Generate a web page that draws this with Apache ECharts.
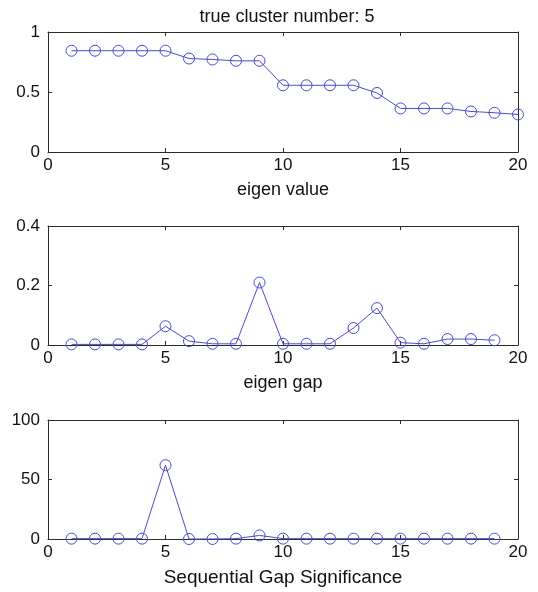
<!DOCTYPE html>
<html>
<head>
<meta charset="utf-8">
<script src="https://cdn.jsdelivr.net/npm/echarts@6/dist/echarts.min.js"></script>
<style>
html,body{margin:0;padding:0;background:#fff;}
#c{width:538px;height:592px;}
</style>
</head>
<body>
<div id="c"></div>
<script>
// Data
const titleText = 'true cluster number: 5';
const xNames = ['eigen value', 'eigen gap', 'Sequential Gap Significance'];
const eigenX = [1,2,3,4,5,6,7,8,9,10,11,12,13,14,15,16,17,18,19,20];
const eigenValue = [0.844,0.844,0.844,0.844,0.844,0.779,0.771,0.760,0.760,0.556,0.556,0.556,0.556,0.492,0.363,0.363,0.363,0.338,0.327,0.313];
const gapX = [1,2,3,4,5,6,7,8,9,10,11,12,13,14,15,16,17,18,19];
const eigenGap = [0.002,0.002,0.002,0.002,0.063,0.013,0.004,0.004,0.210,0.004,0.004,0.004,0.057,0.124,0.008,0.004,0.020,0.020,0.016];
const seqSig = [0.3,0.3,0.3,0.3,62,0,0,0.3,3,0.3,0.3,0.3,0.3,0.3,0.3,0.3,0.3,0.3,0.3];
const xTicks = {min:0, max:20, interval:5};
const yTicks = [
  {min:0, max:1, interval:0.5},
  {min:0, max:0.4, interval:0.2},
  {min:0, max:100, interval:50}
];

const lineColor = '#4a4acd';
const axisColor = '#2b2b2b';
const font = 'Arial, "Liberation Sans", sans-serif';
const grids = [
  {left:48, right:20, top:32, height:120},
  {left:48, right:20, top:226, height:119},
  {left:48, right:20, top:420, height:119}
];
const seriesData = [
  eigenX.map((x,i)=>[x, eigenValue[i]]),
  gapX.map((x,i)=>[x, eigenGap[i]]),
  gapX.map((x,i)=>[x, seqSig[i]])
];

const xAxis = [], yAxis = [], series = [];
grids.forEach((g, i) => {
  const tick = {show:true, inside:true, length:4, lineStyle:{color:axisColor, width:1}};
  xAxis.push({
    type:'value', gridIndex:i, position:'bottom', min:xTicks.min, max:xTicks.max, interval:xTicks.interval,
    axisLine:{show:true, onZero:false, lineStyle:{color:axisColor, width:1}},
    axisTick:tick, splitLine:{show:false},
    axisLabel:{color:'#111', fontSize:17, fontFamily:font, margin:5},
    name:xNames[i], nameLocation:'middle', nameGap:29,
    nameTextStyle:{color:'#111', fontSize:i===2 ? 19 : 18, fontFamily:font}
  });
  xAxis.push({
    type:'value', gridIndex:i, position:'top', min:xTicks.min, max:xTicks.max, interval:xTicks.interval,
    axisLine:{show:true, onZero:false, lineStyle:{color:axisColor, width:1}},
    axisTick:tick, splitLine:{show:false}, axisLabel:{show:false}
  });
  yAxis.push({
    type:'value', gridIndex:i, position:'left', min:yTicks[i].min, max:yTicks[i].max, interval:yTicks[i].interval,
    axisLine:{show:true, onZero:false, lineStyle:{color:axisColor, width:1}},
    axisTick:tick, splitLine:{show:false},
    axisLabel:{color:'#111', fontSize:17, fontFamily:font, margin:8}
  });
  yAxis.push({
    type:'value', gridIndex:i, position:'right', min:yTicks[i].min, max:yTicks[i].max, interval:yTicks[i].interval,
    axisLine:{show:true, onZero:false, lineStyle:{color:axisColor, width:1}},
    axisTick:tick, splitLine:{show:false}, axisLabel:{show:false}
  });
  series.push({
    type:'line', xAxisIndex:i*2, yAxisIndex:i*2, data:seriesData[i],
    symbol:'circle', symbolSize:11, showSymbol:true, clip:false,
    lineStyle:{color:lineColor, width:1},
    itemStyle:{color:'rgba(0,0,0,0)', borderColor:lineColor, borderWidth:1},
    emphasis:{disabled:true}, animation:false
  });
});

const chart = echarts.init(document.getElementById('c'), null, {renderer:'canvas'});
chart.setOption({
  animation:false,
  backgroundColor:'#fff',
  title:{text:titleText, left:282, textAlign:'center', top:3,
    textStyle:{fontSize:18, fontWeight:'normal', color:'#111', fontFamily:font}},
  grid:grids,
  xAxis:xAxis,
  yAxis:yAxis,
  series:series
});
</script>
</body>
</html>
